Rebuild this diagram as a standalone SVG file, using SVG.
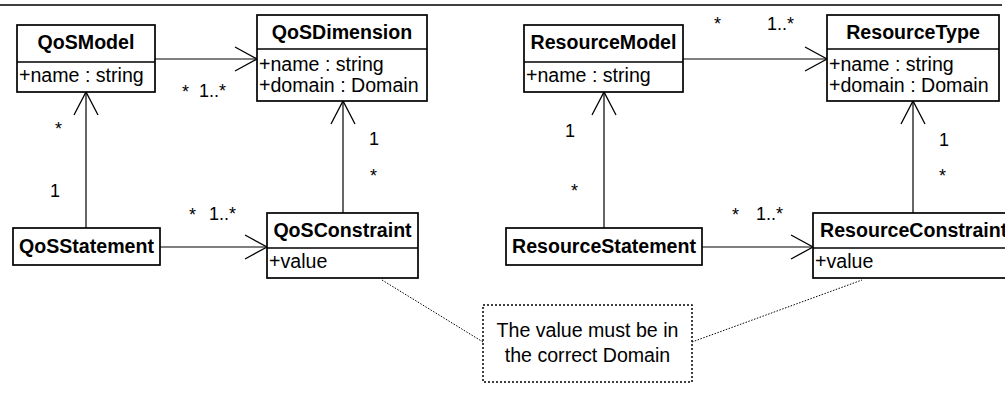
<svg xmlns="http://www.w3.org/2000/svg" width="1005" height="420" viewBox="0 0 1005 420">
  <style>
    .box { fill: #fff; stroke: #000; stroke-width: 1.7; }
    .div { stroke: #000; stroke-width: 1.5; }
    .title { font-family: "Liberation Sans", Arial, sans-serif; font-size: 19.6px; font-weight: bold; text-anchor: middle; fill: #000; }
    .attr { font-family: "Liberation Sans", Arial, sans-serif; font-size: 19.6px; fill: #000; }
    .mult { font-family: "Liberation Sans", Arial, sans-serif; font-size: 18px; fill: #000; }
    .note { font-family: "Liberation Sans", Arial, sans-serif; font-size: 19.6px; text-anchor: middle; fill: #000; }
    .edge { fill: none; stroke: #000; stroke-width: 1.2; }
    .head { fill: none; stroke: #000; stroke-width: 1.3; }
    .dot { fill: none; stroke: #000; stroke-width: 1; stroke-dasharray: 1.5 1.5; }
  </style>

  <!-- frame rule -->
  <line x1="0" y1="5" x2="1002" y2="5" stroke="#000" stroke-width="1.5"/>

  <!-- associations -->
  <g id="connectors">
    <!-- QoSModel -> QoSDimension -->
    <line class="edge" x1="155" y1="59" x2="257" y2="59"/>
    <polyline class="head" points="235,47 257,59 235,71"/>
    <text class="mult" x="182" y="98">*</text>
    <text class="mult" x="199" y="97">1..*</text>

    <!-- QoSStatement -> QoSModel -->
    <line class="edge" x1="86" y1="228" x2="86" y2="92"/>
    <polyline class="head" points="74,115 86,92 98,115"/>
    <text class="mult" x="55" y="135">*</text>
    <text class="mult" x="50" y="197">1</text>

    <!-- QoSStatement -> QoSConstraint -->
    <line class="edge" x1="160" y1="247" x2="267" y2="247"/>
    <polyline class="head" points="245,235 267,247 245,259"/>
    <text class="mult" x="189" y="221">*</text>
    <text class="mult" x="209" y="220">1..*</text>

    <!-- QoSConstraint -> QoSDimension -->
    <line class="edge" x1="343" y1="213" x2="343" y2="101"/>
    <polyline class="head" points="331,124 343,101 355,124"/>
    <text class="mult" x="369" y="145">1</text>
    <text class="mult" x="370" y="182">*</text>

    <!-- ResourceModel -> ResourceType -->
    <line class="edge" x1="683" y1="59" x2="827" y2="59"/>
    <polyline class="head" points="805,47 827,59 805,71"/>
    <text class="mult" x="714" y="30">*</text>
    <text class="mult" x="767" y="30">1..*</text>

    <!-- ResourceStatement -> ResourceModel -->
    <line class="edge" x1="604" y1="228" x2="604" y2="92"/>
    <polyline class="head" points="592,115 604,92 616,115"/>
    <text class="mult" x="565" y="137">1</text>
    <text class="mult" x="571" y="197">*</text>

    <!-- ResourceStatement -> ResourceConstraint -->
    <line class="edge" x1="702" y1="247" x2="813" y2="247"/>
    <polyline class="head" points="791,235 813,247 791,259"/>
    <text class="mult" x="732" y="221">*</text>
    <text class="mult" x="756" y="220">1..*</text>

    <!-- ResourceConstraint -> ResourceType -->
    <line class="edge" x1="913" y1="213" x2="913" y2="101"/>
    <polyline class="head" points="901,124 913,101 925,124"/>
    <text class="mult" x="939" y="146">1</text>
    <text class="mult" x="939" y="182">*</text>

    <!-- note anchors -->
    <line class="dot" x1="382" y1="280" x2="483" y2="342"/>
    <line class="dot" x1="692" y1="342" x2="862" y2="280"/>
  </g>

  <g id="QoSModel">
    <rect class="box" x="17" y="25" width="138" height="67"/>
    <line class="div" x1="17" y1="62" x2="155" y2="62"/>
    <text class="title" x="86" y="49">QoSModel</text>
    <text class="attr" x="19" y="82">+name : string</text>
  </g>

  <g id="QoSDimension">
    <rect class="box" x="257" y="15" width="170" height="86"/>
    <line class="div" x1="257" y1="49" x2="427" y2="49"/>
    <text class="title" x="342" y="39">QoSDimension</text>
    <text class="attr" x="259" y="71">+name : string</text>
    <text class="attr" x="259" y="92">+domain : Domain</text>
  </g>

  <g id="QoSStatement">
    <rect class="box" x="13" y="228" width="147" height="37"/>
    <text class="title" x="86.5" y="253">QoSStatement</text>
  </g>

  <g id="QoSConstraint">
    <rect class="box" x="267" y="213" width="151" height="65"/>
    <line class="div" x1="267" y1="248" x2="418" y2="248"/>
    <text class="title" x="342.5" y="237">QoSConstraint</text>
    <text class="attr" x="269" y="268">+value</text>
  </g>

  <g id="ResourceModel">
    <rect class="box" x="524" y="25" width="159" height="67"/>
    <line class="div" x1="524" y1="62" x2="683" y2="62"/>
    <text class="title" x="603.5" y="49">ResourceModel</text>
    <text class="attr" x="526" y="82">+name : string</text>
  </g>

  <g id="ResourceType">
    <rect class="box" x="827" y="15" width="172" height="86"/>
    <line class="div" x1="827" y1="49" x2="999" y2="49"/>
    <text class="title" x="913" y="39">ResourceType</text>
    <text class="attr" x="829" y="71">+name : string</text>
    <text class="attr" x="829" y="92">+domain : Domain</text>
  </g>

  <g id="ResourceStatement">
    <rect class="box" x="506" y="228" width="196" height="37"/>
    <text class="title" x="604" y="253">ResourceStatement</text>
  </g>

  <g id="ResourceConstraint">
    <rect class="box" x="813" y="213" width="210" height="65"/>
    <line class="div" x1="813" y1="248" x2="1023" y2="248"/>
    <text class="title" x="820" y="237" style="text-anchor:start">ResourceConstraint</text>
    <text class="attr" x="815" y="268">+value</text>
  </g>

  <g id="DomainNote">
    <rect class="box" x="483" y="305" width="209" height="77" style="stroke-dasharray:2 2;stroke-width:1.5"/>
    <text class="note" x="587.5" y="337">The value must be in</text>
    <text class="note" x="587.5" y="362">the correct Domain</text>
  </g>
</svg>
